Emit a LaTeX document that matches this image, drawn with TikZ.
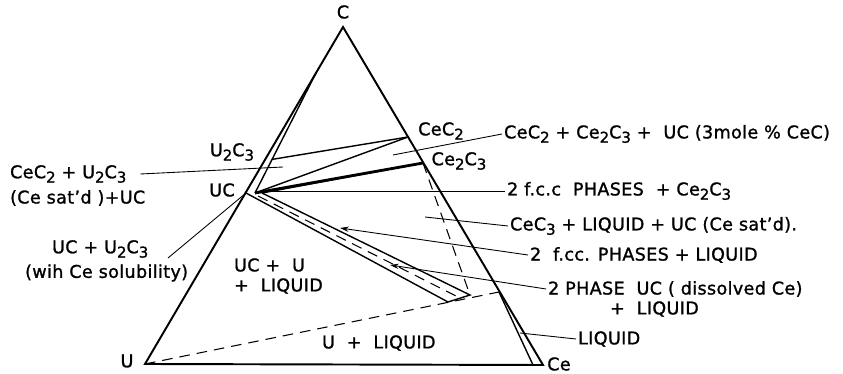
\documentclass[tikz,border=0pt]{standalone}
\usepackage{fontspec}
\setsansfont{DejaVu Sans}[FakeBold=1.2,LetterSpace=2]
\usetikzlibrary{positioning,arrows.meta,calc}
\newcommand\dn[1]{\raisebox{-0.45ex}{\fontsize{8.5}{9}\selectfont #1}}

\begin{document}
\begin{tikzpicture}[x=0.02cm,y=-0.02cm,font=\sffamily\fontsize{10}{12}\selectfont,>=Stealth,
  edge/.style={line width=1.1pt},
  tie/.style={line width=0.8pt},
  lead/.style={line width=0.5pt},
  bound/.style={line width=0.6pt,dash pattern=on 6pt off 4pt},
  lab/.style={inner sep=1pt},
  txt/.style={inner sep=1pt,anchor=west}]
\useasboundingbox (0,0) rectangle (843,374);
% ---------- corners and phases ----------
\coordinate (C) at (343,27);
\coordinate (U) at (145,364);
\coordinate (Ce) at (543,365);
\coordinate (UC) at (246,193);
\coordinate (UCi) at (255,193);
\coordinate (UCj) at (262,193);
\coordinate (Ltop) at (316,73);
\coordinate (U2C3) at ($(Ltop)!0.72!(UCi)$);
\coordinate (CeC2) at (408,137);
\coordinate (Ce2C3) at (423,163);
\coordinate (Rtop) at (499,292);
\coordinate (Rbot) at (533,365);
\coordinate (A) at (448,302);
\coordinate (B) at (470,295);
\coordinate (Dm1) at (258,196);
\coordinate (Dm2) at (460,298);
\node[lab] (lC) at (343,12) {C};
\node[lab] (lU) at (127,361) {U};
\node[lab] (lCe) at (559,364) {Ce};
\node[lab] (lUC) at (222,190) {UC};
\node[lab] (lU2C3) at (232,152) {U\dn{2}C\dn{3}};
\node[lab] (lCeC2) at (441,131) {CeC\dn{2}};
\node[lab] (lCe2C3) at (459,161) {Ce\dn{2}C\dn{3}};
% ---------- boundaries ----------
\draw[edge] (U) -- (C) -- (Ce) -- cycle;
\draw[tie] (Ltop) -- (UCi);
\draw[tie] (Rtop) -- (Rbot);
\draw[tie] (U2C3) -- (CeC2);
\draw[tie] (UCi) -- (CeC2);
\draw[line width=1.6pt] (UCi) -- (Ce2C3);
\draw[tie] (UCj) -- (Ce2C3);
\draw[tie] (UC) -- (A) -- (B) -- (UCj);
\draw[bound] (Dm1) -- (Dm2);
\draw[bound] (Ce2C3) -- (B);
\draw[bound] (U) -- (Rtop);
% ---------- region labels ----------
\node[txt] (r1) at (232,265) {UC\ +\ \ U};
\node[txt] (r2) at (232,286) {+\ \ LIQUID};
\node[txt] (r3) at (320,343) {U\ \ +\ \ LIQUID};
% ---------- leader labels ----------
\node[txt] (t1) at (502,134) {CeC\dn{2} + Ce\dn{2}C\dn{3} +\ \ UC (3mole \% CeC)};
\node[txt] (t2) at (505,191) {2 f.c.c\ \ PHASES\ \ + Ce\dn{2}C\dn{3}};
\node[txt] (t3) at (508,226) {CeC\dn{3} + LIQUID + UC (Ce sat'd).};
\node[txt] (t4) at (528,255) {2\ \ f.cc. PHASES\ + LIQUID};
\node[txt] (t5) at (546,289) {2 PHASE\ \ UC ( dissolved Ce)};
\node[txt] (t5b) at (608,309) {+\ \ LIQUID};
\node[txt] (t6) at (576,339) {LIQUID};
\node[txt] (t7a) at (8,174) {CeC\dn{2} + U\dn{2}C\dn{3}};
\node[txt] (t7b) at (8,198) {(Ce sat'd )+UC};
\node[txt] (t8a) at (50,249) {UC + U\dn{2}C\dn{3}};
\node[txt] (t8b) at (23,273) {(wih Ce solubility)};
\coordinate (p1) at (393,155);
\coordinate (p3) at (425,217);
\coordinate (p4) at (340,228);
\coordinate (p5) at (390,265);
\coordinate (p6) at (520,333);
\coordinate (p7) at (283,167);
\coordinate (p8) at (168,258);
\draw[lead] (p1) -- (t1.west);
\draw[lead] (t2.west) -- (t2.west -| UCj);
\draw[lead] (p3) -- (t3.west);
\draw[lead,-{Stealth[length=5pt,width=3pt]}] (t4.west) -- (p4);
\draw[lead,-{Stealth[length=5pt,width=3pt]}] (t5.west) -- (p5);
\draw[lead] (p6) -- (t6.west);
\draw[lead] (p7) -- ($(t7a.east)+(12,0)$);
\draw[lead] (UC) -- (p8);
\end{tikzpicture}
\end{document}
